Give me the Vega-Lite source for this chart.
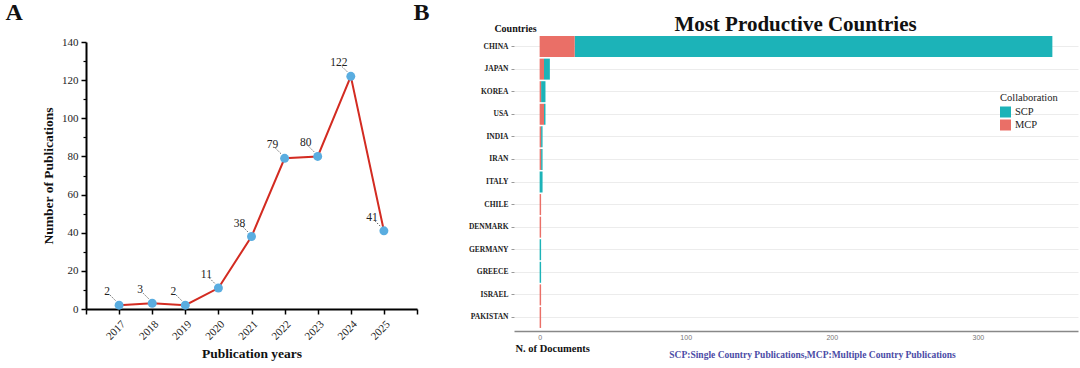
{
  "$schema": "https://vega.github.io/schema/vega-lite/v6.json",
  "padding": {"left": 5, "top": 0, "right": 2, "bottom": 4},
  "autosize": {"type": "pad"},
  "background": "white",
  "config": {"view": {"stroke": null}, "font": "Liberation Serif"},
  "spacing": -5,
  "hconcat": [
    {
      "width": 331,
      "height": 267,
      "data": {"values": [
        {"year": 2017, "count": 2}, {"year": 2018, "count": 3}, {"year": 2019, "count": 2},
        {"year": 2020, "count": 11}, {"year": 2021, "count": 38}, {"year": 2022, "count": 79},
        {"year": 2023, "count": 80}, {"year": 2024, "count": 122}, {"year": 2025, "count": 41}
      ]},
      "resolve": {"axis": {"x": "independent", "y": "independent"}},
      "layer": [
        {
          "mark": {"type": "line", "color": "#d32b21", "strokeWidth": 2},
          "encoding": {
            "x": {"field": "year", "type": "quantitative", "scale": {"domain": [2016, 2026], "nice": false, "zero": false},
              "axis": {"orient": "bottom", "values": [2017, 2018, 2019, 2020, 2021, 2022, 2023, 2024, 2025], "format": "d", "labelOverlap": false, "labelBound": false, "labelFlush": false, "labelAngle": -45, "labelFontSize": 11, "labelFont": "Liberation Serif", "labelColor": "#222", "labelPadding": 4, "domainColor": "#000", "domainWidth": 2, "tickColor": "#000", "tickWidth": 1.5, "tickSize": 5, "grid": false, "title": "Publication years", "titleFont": "Liberation Serif", "titleFontSize": 13.5, "titleFontWeight": "bold", "titleColor": "#111", "titlePadding": 5}},
            "y": {"field": "count", "type": "quantitative", "scale": {"domain": [0, 140], "nice": false},
              "axis": {"orient": "left", "values": [0, 20, 40, 60, 80, 100, 120, 140], "labelFontSize": 11, "labelFont": "Liberation Serif", "labelColor": "#222", "labelPadding": 3, "domainColor": "#000", "domainWidth": 2, "tickColor": "#000", "tickWidth": 1.5, "tickSize": 5, "grid": false, "title": "Number of Publications", "titleFont": "Liberation Serif", "titleFontSize": 13.5, "titleFontWeight": "bold", "titleColor": "#111", "titlePadding": 6}}
          }
        },
        {
          "mark": {"type": "point", "shape": "M-1,-1L1,1", "size": 36, "filled": false, "stroke": "#333", "strokeWidth": 0.8, "strokeDash": [1.5, 1.5], "xOffset": -6, "yOffset": -7, "opacity": 1},
          "encoding": {
            "x": {"field": "year", "type": "quantitative", "axis": null},
            "y": {"field": "count", "type": "quantitative", "axis": null}
          }
        },
        {
          "mark": {"type": "circle", "size": 80, "color": "#5aade0", "opacity": 1},
          "encoding": {
            "x": {"field": "year", "type": "quantitative", "axis": null},
            "y": {"field": "count", "type": "quantitative", "axis": null}
          }
        },
        {
          "mark": {"type": "text", "dx": -12, "dy": -13, "fontSize": 11.5, "font": "Liberation Serif", "color": "#222"},
          "encoding": {
            "x": {"field": "year", "type": "quantitative", "axis": null},
            "y": {"field": "count", "type": "quantitative", "axis": null},
            "text": {"field": "count", "type": "quantitative"}
          }
        },
        {
          "mark": {"type": "circle", "opacity": 0},
          "encoding": {
            "x": {"field": "year", "type": "quantitative",
              "axis": {"orient": "bottom", "values": [2016, 2026], "labels": false, "domain": false, "ticks": true, "tickSize": 5, "tickWidth": 1.5, "tickColor": "#000", "grid": false, "title": null}},
            "y": {"field": "count", "type": "quantitative",
              "axis": {"orient": "left", "values": [10, 30, 50, 70, 90, 110, 130], "labels": false, "domain": false, "ticks": true, "tickSize": 3, "tickWidth": 1.2, "tickColor": "#000", "grid": false,
                "title": "A", "titleAngle": 0, "titleAlign": "left", "titleBaseline": "alphabetic", "titleX": -81, "titleY": -23, "titleFont": "Liberation Serif", "titleFontSize": 24, "titleFontWeight": "bold", "titleColor": "#111"}}
          }
        }
      ]
    },
    {
      "width": 564,
      "height": 289,
      "data": {"values": [
        {"country": "CHINA", "Collaboration": "SCP", "n": 327}, {"country": "CHINA", "Collaboration": "MCP", "n": 24},
        {"country": "JAPAN", "Collaboration": "SCP", "n": 4}, {"country": "JAPAN", "Collaboration": "MCP", "n": 3},
        {"country": "KOREA", "Collaboration": "SCP", "n": 3}, {"country": "KOREA", "Collaboration": "MCP", "n": 1},
        {"country": "USA", "Collaboration": "SCP", "n": 1}, {"country": "USA", "Collaboration": "MCP", "n": 3},
        {"country": "INDIA", "Collaboration": "SCP", "n": 1}, {"country": "INDIA", "Collaboration": "MCP", "n": 1},
        {"country": "IRAN", "Collaboration": "SCP", "n": 1}, {"country": "IRAN", "Collaboration": "MCP", "n": 1},
        {"country": "ITALY", "Collaboration": "SCP", "n": 2},
        {"country": "CHILE", "Collaboration": "MCP", "n": 1},
        {"country": "DENMARK", "Collaboration": "MCP", "n": 1},
        {"country": "GERMANY", "Collaboration": "SCP", "n": 1},
        {"country": "GREECE", "Collaboration": "SCP", "n": 1},
        {"country": "ISRAEL", "Collaboration": "MCP", "n": 1},
        {"country": "PAKISTAN", "Collaboration": "MCP", "n": 1}
      ]},
      "resolve": {"axis": {"x": "independent", "y": "independent"}},
      "layer": [
        {
          "mark": {"type": "bar"},
          "encoding": {
            "y": {"field": "country", "type": "nominal",
              "sort": ["CHINA", "JAPAN", "KOREA", "USA", "INDIA", "IRAN", "ITALY", "CHILE", "DENMARK", "GERMANY", "GREECE", "ISRAEL", "PAKISTAN"],
              "scale": {"range": [-9, 289], "paddingInner": 0.07, "paddingOuter": 0.135},
              "axis": {"orient": "left", "title": "Countries", "titleAngle": 0, "titleAlign": "center", "titleBaseline": "alphabetic", "titleX": 1, "titleY": -11, "titleFont": "Liberation Serif", "titleFontSize": 10, "titleFontWeight": "bold", "titleColor": "#111", "labelFont": "Liberation Serif", "labelFontSize": 7.5, "labelFontWeight": "bold", "labelColor": "#222", "labelPadding": 3, "tickColor": "#999", "tickSize": 3, "domain": false, "grid": true, "gridColor": "#ececec", "gridWidth": 1}},
            "x": {"field": "n", "type": "quantitative", "stack": "zero",
              "scale": {"domain": [-17.55, 368.55], "nice": false, "zero": false},
              "axis": {"orient": "bottom", "values": [0, 100, 200, 300], "title": "N. of Documents", "titleAnchor": "start", "titleAlign": "left", "titleBaseline": "alphabetic", "titleX": 1, "titleY": 20, "titleFont": "Liberation Serif", "titleFontSize": 10.5, "titleFontWeight": "bold", "titleColor": "#111", "labelFont": "Liberation Sans", "labelFontSize": 7, "labelColor": "#777", "labelPadding": 2, "ticks": false, "domainColor": "#888", "domainWidth": 1.5, "grid": false}},
            "color": {"field": "Collaboration", "type": "nominal",
              "scale": {"domain": ["SCP", "MCP"], "range": ["#1cb3b8", "#ea6f67"]},
              "legend": {"orient": "none", "legendX": 914, "legendY": 51, "title": "Collaboration", "titleFont": "Liberation Serif", "titleFontSize": 10.5, "titleFontWeight": "normal", "titleColor": "#222", "labelFont": "Liberation Serif", "labelFontSize": 10.5, "labelColor": "#222", "symbolType": "square", "symbolSize": 121, "symbolStrokeWidth": 0, "rowPadding": 2, "titlePadding": 3}},
            "order": {"field": "Collaboration", "sort": "ascending"}
          }
        },
        {
          "mark": {"type": "point", "opacity": 0},
          "encoding": {
            "y": {"field": "country", "type": "nominal",
              "sort": ["CHINA", "JAPAN", "KOREA", "USA", "INDIA", "IRAN", "ITALY", "CHILE", "DENMARK", "GERMANY", "GREECE", "ISRAEL", "PAKISTAN"],
              "axis": {"orient": "left", "labels": false, "ticks": false, "domain": false, "grid": false,
                "title": "B", "titleAngle": 0, "titleAlign": "left", "titleBaseline": "alphabetic", "titleX": -101, "titleY": -23, "titleFont": "Liberation Serif", "titleFontSize": 24, "titleFontWeight": "bold", "titleColor": "#111"}},
            "x": {"field": "n", "type": "quantitative",
              "axis": {"orient": "top", "labels": false, "ticks": false, "domain": false, "grid": false,
                "title": "Most Productive Countries", "titleAlign": "center", "titleBaseline": "alphabetic", "titleX": 281, "titleY": -12, "titleFont": "Liberation Serif", "titleFontSize": 21, "titleFontWeight": "bold", "titleColor": "#111"}}
          }
        },
        {
          "mark": {"type": "point", "opacity": 0},
          "encoding": {
            "y": {"field": "country", "type": "nominal",
              "sort": ["CHINA", "JAPAN", "KOREA", "USA", "INDIA", "IRAN", "ITALY", "CHILE", "DENMARK", "GERMANY", "GREECE", "ISRAEL", "PAKISTAN"],
              "axis": null},
            "x": {"field": "n", "type": "quantitative",
              "axis": {"orient": "bottom", "labels": false, "ticks": false, "domain": false, "grid": false,
                "title": "SCP:Single Country Publications,MCP:Multiple Country Publications", "titleAlign": "center", "titleBaseline": "alphabetic", "titleX": 298, "titleY": 26, "titleFont": "Liberation Serif", "titleFontSize": 9.5, "titleFontWeight": "bold", "titleColor": "#4b4ba6"}}
          }
        }
      ]
    }
  ]
}
